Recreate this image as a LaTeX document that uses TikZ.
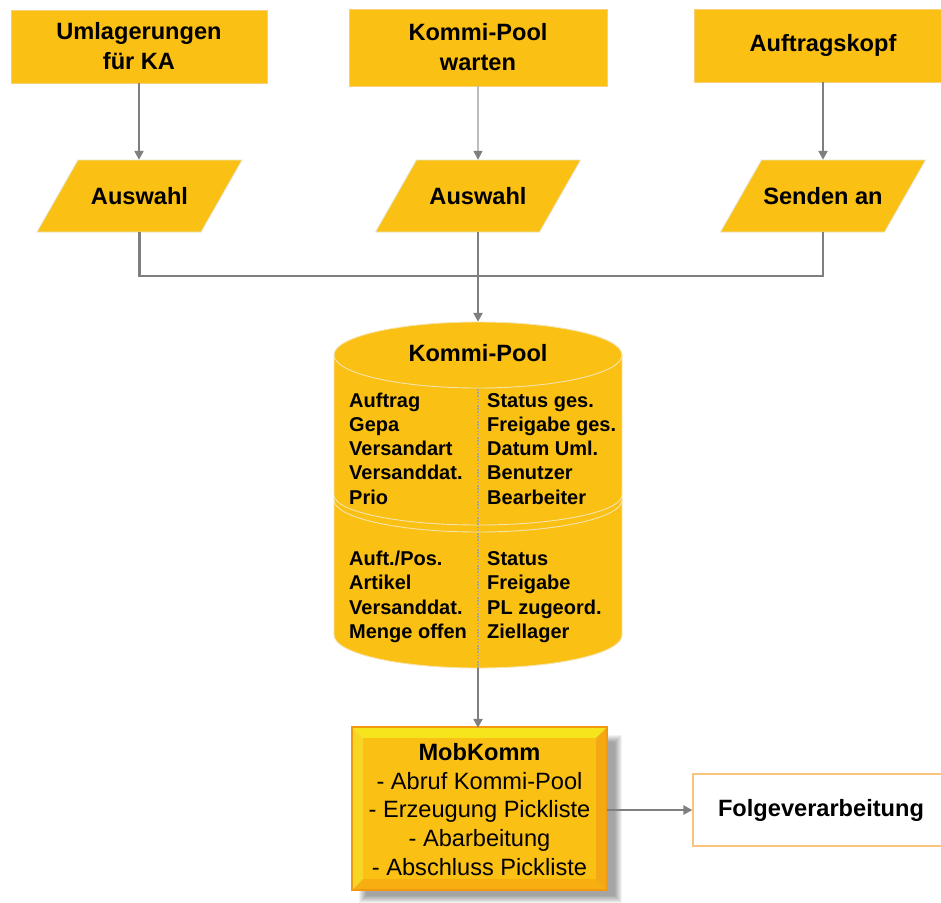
\documentclass[tikz,border=0pt]{standalone}
\usepackage{fontspec}
\setmainfont{Liberation Sans}
\usetikzlibrary{arrows.meta,calc}
\definecolor{gold}{HTML}{FBC014}
\definecolor{boxedge}{HTML}{F9CF7A}
\definecolor{pgedge}{HTML}{E6E3C8}
\definecolor{conncol}{HTML}{7F7F7F}
\definecolor{connlt}{HTML}{BDBDBD}
\definecolor{rim}{HTML}{F4E4AE}
\definecolor{dotcol}{HTML}{A5A5A5}
\definecolor{bevtop}{HTML}{F6E51C}
\definecolor{bevleft}{HTML}{F8D624}
\definecolor{bevbot}{HTML}{F6AE10}
\definecolor{bevright}{HTML}{F4A912}
\definecolor{mobedge}{HTML}{F19A10}
\definecolor{folgeedge}{HTML}{F8C47E}
\begin{document}
\begin{tikzpicture}[x=1pt,y=-1pt,
  tip/.tip={Triangle[width=9pt,length=9pt]},
  box/.style={rectangle, fill=gold, draw=boxedge, line width=0.8pt,
    minimum width=256pt, minimum height=73pt, inner sep=0pt, align=center,
    font=\fontsize{23.6}{30}\selectfont\bfseries},
  pg/.style={rectangle, minimum width=164pt, minimum height=72pt, inner sep=0pt,
    font=\fontsize{23.6}{28}\selectfont\bfseries},
  pgshape/.style={fill=gold, draw=pgedge, line width=0.8pt},
  conn/.style={draw=conncol, line width=2.8pt},
  connarrow/.style={conn, -{tip[fill=conncol]}},
  connlight/.style={draw=connlt, line width=1.6pt, -{tip[fill=conncol,color=conncol]}},
  ct/.style={anchor=base west, inner sep=0pt, font=\fontsize{20}{24}\selectfont\bfseries},
  hd/.style={anchor=base, inner sep=0pt, font=\fontsize{23.6}{28}\selectfont\bfseries},
  rimline/.style={draw=rim, line width=0.9pt},
]
\useasboundingbox (0,0) rectangle (941,902);
\clip (0,0) rectangle (941,902);
\fill[white] (0,0) rectangle (941,902);

% ---------- top boxes ----------
\node[box] (b1) at (139,46.5) {Umlagerungen\\für KA};
\node[box, minimum width=258pt, minimum height=77pt] (b2) at (478,47.5) {Kommi-Pool\\warten};
\node[box, minimum width=258pt] (b3) at (823,45.5) {Auftragskopf};

% ---------- parallelograms ----------
\foreach \n/\cx/\t in {p1/139.5/Auswahl, p2/478/Auswahl, p3/823/Senden an}{
  \coordinate (\n c) at (\cx,196);
  \filldraw[pgshape] ($(\n c)+(-61.5,-36)$) -- ($(\n c)+(102.5,-36)$)
     -- ($(\n c)+(61.5,36)$) -- ($(\n c)+(-102.5,36)$) -- cycle;
  \node[pg] (\n) at (\n c) {\t};
}

% ---------- cylinder ----------
\fill[gold] (334,355) -- (334,635)
  arc[start angle=180, end angle=0, x radius=144, y radius=33]
  -- (622,355)
  arc[start angle=0, end angle=-180, x radius=144, y radius=33] -- cycle;
\draw[rimline] (334,355) -- (334,635)
  arc[start angle=180, end angle=0, x radius=144, y radius=33]
  -- (622,355)
  arc[start angle=0, end angle=-180, x radius=144, y radius=33];
\draw[rimline] (334,355) arc[start angle=180, end angle=0, x radius=144, y radius=33];
\draw[rimline] (334,495) arc[start angle=180, end angle=0, x radius=144, y radius=30];
\draw[rimline] (334,500) arc[start angle=180, end angle=0, x radius=144, y radius=32];
\node[rectangle, inner sep=0pt, minimum width=288pt, minimum height=346pt] (cyl) at (478,495) {};
\draw[dotcol, line width=1.6pt, dash pattern=on 1.6pt off 1.6pt] (478,389) -- (cyl.south);
\node[hd] (cylt) at (478,361.5) {Kommi-Pool};
\foreach \t [count=\i] in {Auftrag, Gepa, Versandart, Versanddat., Prio}
  \node[ct] (la\i) at (349,{407+(\i-1)*24.3}) {\t};
\foreach \t [count=\i] in {Status ges., Freigabe ges., Datum Uml., Benutzer, Bearbeiter}
  \node[ct] (ra\i) at (487,{407+(\i-1)*24.3}) {\t};
\foreach \t [count=\i] in {Auft./Pos., Artikel, Versanddat., Menge offen}
  \node[ct] (lb\i) at (349,{565+(\i-1)*24.6}) {\t};
\foreach \t [count=\i] in {Status, Freigabe, PL zugeord., Ziellager}
  \node[ct] (rb\i) at (487,{565+(\i-1)*24.6}) {\t};

% ---------- MobKomm ----------
\foreach \k in {0,...,7}
  \fill[black, opacity=0.05] (366-\k,742-\k) rectangle (615+\k,896+\k);
\fill[bevtop] (352,727) -- (607,727) -- (596,738) -- (363,738) -- cycle;
\fill[bevleft] (352,727) -- (363,738) -- (363,879) -- (352,890) -- cycle;
\fill[bevbot] (352,890) -- (363,879) -- (596,879) -- (607,890) -- cycle;
\fill[bevright] (607,727) -- (607,890) -- (596,879) -- (596,738) -- cycle;
\fill[gold] (363,738) rectangle (596,879);
\draw[mobedge, line width=2pt] (352,727) rectangle (607,890);
\node[rectangle, inner sep=0pt, minimum width=255pt, minimum height=163pt, align=center,
  font=\fontsize{23.6}{28.7}\selectfont] (mob) at (479.5,809.5)
  {\textbf{MobKomm}\\- Abruf Kommi-Pool\\- Erzeugung Pickliste\\- Abarbeitung\\- Abschluss Pickliste};

% ---------- Folgeverarbeitung ----------
\node[rectangle, fill=white, draw=folgeedge, line width=1.2pt, minimum width=256pt,
  minimum height=72pt, inner sep=0pt, font=\fontsize{23.6}{28}\selectfont\bfseries]
  (folge) at (821,810) {Folgeverarbeitung};

% ---------- connectors ----------
\draw[connarrow] (b1.south) -- (b1.south |- p1.north);
\draw[connlight] (b2.south) -- (p2.north);
\draw[connarrow] (b3.south) -- (b3.south |- p3.north);
\coordinate (j) at (478,276);
\draw[conn] (p1.south) |- (j) -| (p3.south);
\draw[connarrow] (p2.south) -- (cyl.north);
\draw[connarrow] (cyl.south) -- (cyl.south |- mob.north);
\draw[connarrow] (mob.east |- folge.west) -- (folge.west);
\end{tikzpicture}
\end{document}
